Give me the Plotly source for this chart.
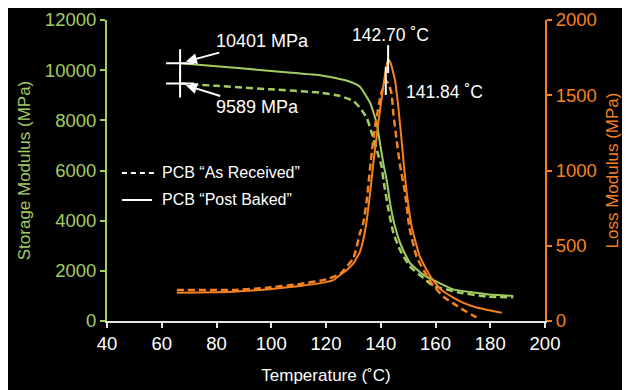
import plotly.graph_objects as go

# ---------------- data ----------------
# Storage modulus, PCB "Post Baked" (solid green)
temp_storage_pb = [66.7, 80, 100, 117.8, 125, 128.8, 132.4, 136.1, 138.5, 139.7, 141.0,
                   142.2, 143.4, 145.2, 147.6, 150.7, 155.6, 159.8, 166.5, 178.7, 188.4]
storage_pb = [10280, 10155, 9970, 9800, 9650, 9540, 9340, 8700, 7900, 7100, 6250,
              5600, 4700, 3770, 2970, 2310, 1840, 1600, 1260, 1070, 1000]

# Storage modulus, PCB "As Received" (dashed green)
temp_storage_ar = [66.7, 80, 100, 117.8, 125.1, 130, 132.4, 134.9, 136.7, 138.5, 140.3,
                   141.0, 142.8, 144.6, 147.0, 150.7, 155.6, 159.2, 169.0, 178.7, 188.4]
storage_ar = [9470, 9375, 9235, 9107, 8970, 8770, 8500, 8100, 7500, 6840, 6170,
              5600, 4440, 3510, 2840, 2170, 1710, 1400, 1130, 970, 945]

# Loss modulus, PCB "Post Baked" (solid orange)
temp_loss_pb = [65.5, 86.1, 98.3, 110.5, 119.0, 122.7, 125.1, 127.6, 130.0, 132.4, 133.6,
                134.9, 136.1, 137.3, 139.1, 141.0, 142.0, 142.70, 143.6, 144.5, 145.2,
                146.4, 147.6, 148.5, 149.5, 151.3, 154.3, 158.0, 161.6, 166.5, 170.0, 175.0, 184.2]
loss_pb = [188, 195, 210, 233, 255, 272, 306, 339, 383, 460, 538,
           671, 849, 1050, 1314, 1570, 1685, 1740, 1715, 1655, 1600,
           1424, 1203, 1025, 849, 627, 427, 300, 215, 155, 122, 90, 55]

# Loss modulus, PCB "As Received" (dashed orange)
temp_loss_ar = [65.5, 86.0, 98.3, 110.5, 120.2, 125.1, 130.0, 132.4, 133.6, 134.9, 136.4,
                138.0, 140.0, 141.84, 142.8, 144.0, 144.6, 145.8, 147.0, 148.9, 150.4,
                153.1, 156.8, 159.2, 162.9, 166.5, 170.2, 174.5, 175.6]
loss_ar = [206, 206, 221, 246, 277, 312, 417, 583, 649, 804, 1070,
           1300, 1500, 1595, 1580, 1505, 1380, 1203, 1040, 849, 627,
           427, 300, 235, 161, 117, 73, 29, 18]

peak_temps = [142.70, 141.84]
peak_labels = ["142.70 \u02daC", "141.84 \u02daC"]
start_labels = ["10401 MPa", "9589 MPa"]

x_ticks = [40, 60, 80, 100, 120, 140, 160, 180, 200]
y_ticks = [0, 2000, 4000, 6000, 8000, 10000, 12000]
y2_ticks = [0, 500, 1000, 1500, 2000]

# ---------------- styles ----------------
GREEN = "#A3CC62"
ORANGE = "#F5821F"
WHITE = "#FFFFFF"
FONT = "Liberation Sans, Arial, sans-serif"
DASH = "7px,4px"
SMOOTH = 0.4
TICK_SIZE = 18.5

fig = go.Figure()

fig.add_trace(go.Scatter(x=temp_storage_pb, y=storage_pb, mode="lines",
                         line=dict(color=GREEN, width=2, shape="spline", smoothing=SMOOTH),
                         showlegend=False, yaxis="y"))
fig.add_trace(go.Scatter(x=temp_storage_ar, y=storage_ar, mode="lines",
                         line=dict(color=GREEN, width=2.5, dash=DASH, shape="spline", smoothing=SMOOTH),
                         showlegend=False, yaxis="y"))
fig.add_trace(go.Scatter(x=temp_loss_pb, y=loss_pb, mode="lines",
                         line=dict(color=ORANGE, width=2, shape="spline", smoothing=SMOOTH),
                         showlegend=False, yaxis="y2"))
fig.add_trace(go.Scatter(x=temp_loss_ar, y=loss_ar, mode="lines",
                         line=dict(color=ORANGE, width=2.5, dash=DASH, shape="spline", smoothing=SMOOTH),
                         showlegend=False, yaxis="y2"))

# cross markers at the start of the storage curves
fig.add_trace(go.Scatter(x=[temp_storage_pb[0], temp_storage_ar[0]],
                         y=[storage_pb[0], storage_ar[0]], mode="markers",
                         marker=dict(symbol="cross-thin", size=20,
                                     line=dict(color=WHITE, width=2)),
                         showlegend=False, yaxis="y"))

# peak tick markers
peak_vals = [loss_pb[temp_loss_pb.index(peak_temps[0])],
             loss_ar[temp_loss_ar.index(peak_temps[1])]]
fig.add_trace(go.Scatter(x=peak_temps, y=peak_vals, mode="markers",
                         marker=dict(symbol="line-ns", size=20,
                                     line=dict(color=WHITE, width=2)),
                         showlegend=False, yaxis="y2"))

annotations = [
    dict(x=temp_storage_pb[0], y=storage_pb[0], xref="x", yref="y",
         text=start_labels[0], showarrow=True, ax=82, ay=-22,
         arrowhead=2, arrowsize=1.1, arrowwidth=2, arrowcolor=WHITE, standoff=6,
         font=dict(family=FONT, size=18, color=WHITE)),
    dict(x=temp_storage_ar[0], y=storage_ar[0], xref="x", yref="y",
         text=start_labels[1], showarrow=True, ax=77, ay=24,
         arrowhead=2, arrowsize=1.1, arrowwidth=2, arrowcolor=WHITE, standoff=6,
         font=dict(family=FONT, size=18, color=WHITE)),
    dict(x=peak_temps[0], y=peak_vals[0], xref="x", yref="y2",
         text=peak_labels[0], showarrow=False, yshift=24, xshift=2,
         font=dict(family=FONT, size=17.5, color=WHITE)),
    dict(x=peak_temps[1], y=peak_vals[1], xref="x", yref="y2",
         text=peak_labels[1], showarrow=False, xanchor="left", xshift=18, yshift=-11,
         font=dict(family=FONT, size=17.5, color=WHITE)),
    # legend texts
    dict(x=0.121, y=0.492, xref="paper", yref="paper", xanchor="left",
         text="PCB \u201cAs Received\u201d", showarrow=False,
         font=dict(family=FONT, size=16, color=WHITE)),
    dict(x=0.121, y=0.402, xref="paper", yref="paper", xanchor="left",
         text="PCB \u201cPost Baked\u201d", showarrow=False,
         font=dict(family=FONT, size=16, color=WHITE)),
]

shapes = [
    dict(type="line", xref="paper", yref="paper", x0=0.034, x1=0.110, y0=0.492, y1=0.492,
         line=dict(color=WHITE, width=2, dash="5px,4px")),
    dict(type="line", xref="paper", yref="paper", x0=0.034, x1=0.103, y0=0.402, y1=0.402,
         line=dict(color=WHITE, width=2)),
]

# the page adds an 8px body margin, so the figure is 622x382 and offset accordingly
fig.update_layout(
    width=622, height=382,
    margin=dict(l=99, r=85, t=12, b=69),
    paper_bgcolor="#000000", plot_bgcolor="#000000",
    font=dict(family=FONT, size=17, color=WHITE),
    showlegend=False,
    annotations=annotations,
    shapes=shapes,
    xaxis=dict(range=[40, 200], tickvals=x_ticks, showgrid=False, zeroline=False,
               automargin=False, tickformat="d",
               showline=True, linecolor="#E6E6E6", linewidth=2,
               ticks="outside", ticklen=5, tickwidth=2, tickcolor="#E6E6E6",
               tickfont=dict(family=FONT, size=TICK_SIZE, color=WHITE),
               title=dict(text="Temperature (\u02daC)", standoff=16,
                          font=dict(family=FONT, size=17, color=WHITE))),
    yaxis=dict(range=[0, 12000], tickvals=y_ticks, showgrid=False, zeroline=False,
               automargin=False, tickformat="d",
               showline=True, linecolor=GREEN, linewidth=2,
               ticks="outside", ticklen=5, tickwidth=2, tickcolor=GREEN,
               tickfont=dict(family=FONT, size=TICK_SIZE, color=GREEN),
               title=dict(text="Storage Modulus (MPa)", standoff=10,
                          font=dict(family=FONT, size=17, color=GREEN))),
    yaxis2=dict(range=[0, 2000], tickvals=y2_ticks, overlaying="y", side="right",
                showgrid=False, zeroline=False, automargin=False, tickformat="d",
                showline=True, linecolor=ORANGE, linewidth=2,
                ticks="outside", ticklen=5, tickwidth=2, tickcolor=ORANGE,
                tickfont=dict(family=FONT, size=TICK_SIZE, color=ORANGE),
                title=dict(text="Loss Modulus (MPa)", standoff=10,
                           font=dict(family=FONT, size=17, color=ORANGE))),
)

fig.write_html("out.html")
